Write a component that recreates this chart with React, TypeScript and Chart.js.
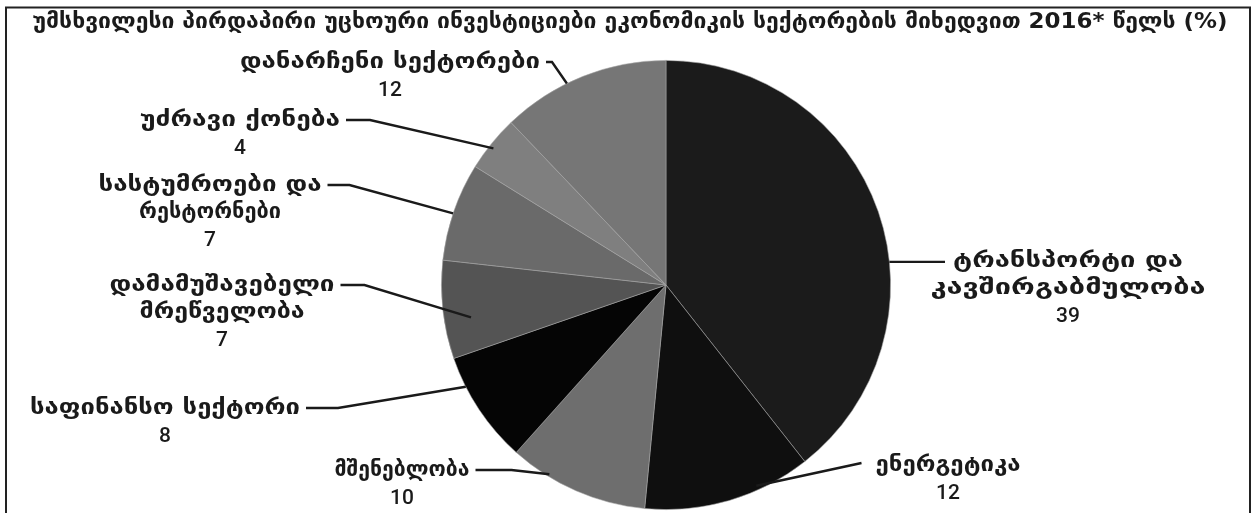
import React, { useEffect, useRef } from "react";
import { Chart, registerables } from "chart.js";

Chart.register(...registerables);

const titleText = "უმსხვილესი პირდაპირი უცხოური ინვესტიციები ეკონომიკის სექტორების მიხედვით 2016* წელს (%)";

const categories = [
  "ტრანსპორტი და კავშირგაბმულობა",
  "ენერგეტიკა",
  "მშენებლობა",
  "საფინანსო სექტორი",
  "დამამუშავებელი მრეწველობა",
  "სასტუმროები და რესტორნები",
  "უძრავი ქონება",
  "დანარჩენი სექტორები",
];

const values = [39, 12, 10, 8, 7, 7, 4, 12];

const labelLines = [
  ["ტრანსპორტი და", "კავშირგაბმულობა"],
  ["ენერგეტიკა"],
  ["მშენებლობა"],
  ["საფინანსო სექტორი"],
  ["დამამუშავებელი", "მრეწველობა"],
  ["სასტუმროები და", "რესტორნები"],
  ["უძრავი ქონება"],
  ["დანარჩენი სექტორები"],
];

const sliceColors = ["#1b1b1b", "#0f0f0f", "#6e6e6e", "#050505", "#545454", "#6a6a6a", "#7f7f7f", "#767676"];

// layout of annotation labels (positions / sizes only)
const labelLayout = [
  { cx: 1068, y: 262, side: "right", frac: 0.593, rr: 1.0, widths: [230, 275] },
  { cx: 948, y: 466, side: "right", frac: 0.32, rr: 0.98, widths: [145], diag: true },
  { cx: 402, y: 471, side: "left", frac: 0.72, rr: 0.99, widths: [135], seg: 36 },
  { cx: 165, y: 409, side: "left", frac: 0.73, rr: 1.0, widths: [270], seg: 32 },
  { cx: 222, y: 286, side: "left", frac: 0.38, rr: 0.88, widths: [225, 165], seg: 24 },
  { cx: 210, y: 186, side: "left", frac: 0.48, rr: 1.0, widths: [223, 142], seg: 22 },
  { cx: 240, y: 121, side: "left", frac: 0.45, rr: 0.98, widths: [200], seg: 24 },
  { cx: 390, y: 63, side: "left", frac: 0.4, rr: 1.0, widths: [300], seg: 6 },
];

const TEXT_COLOR = "#1a1a1a";
const LINE_GAP = 27;

function fitText(ctx: CanvasRenderingContext2D, text: string, cx: number, y: number, target: number) {
  const w = ctx.measureText(text).width;
  const s = target / w;
  ctx.save();
  ctx.translate(cx, y);
  ctx.scale(s, 1);
  ctx.textAlign = "center";
  ctx.textBaseline = "middle";
  ctx.fillText(text, 0, 0);
  ctx.restore();
}

const annotationPlugin = {
  id: "annotations",
  afterDraw(chart: any) {
    const ctx: CanvasRenderingContext2D = chart.ctx;
    ctx.save();
    // frame
    ctx.strokeStyle = "#222";
    ctx.lineWidth = 2;
    ctx.strokeRect(6, 7.5, 1244, 520);

    // title
    ctx.fillStyle = TEXT_COLOR;
    ctx.font = "bold 21px 'DejaVu Sans'";
    fitText(ctx, titleText, 630, 23, 1195);

    const meta = chart.getDatasetMeta(0);
    labelLines.forEach((lines, i) => {
      const lay = labelLayout[i];
      const arc = meta.data[i];
      const a = arc.startAngle + lay.frac * (arc.endAngle - arc.startAngle);
      const ax = arc.x + Math.cos(a) * arc.outerRadius * lay.rr;
      const ay = arc.y + Math.sin(a) * arc.outerRadius * lay.rr;

      ctx.fillStyle = TEXT_COLOR;
      ctx.font = "bold 21px 'DejaVu Sans'";
      lines.forEach((ln, k) => fitText(ctx, ln, lay.cx, lay.y + k * LINE_GAP, lay.widths[k]));
      ctx.font = "500 21px Roboto";
      ctx.textAlign = "center";
      ctx.textBaseline = "middle";
      ctx.fillText(String(values[i]), lay.cx, lay.y + lines.length * LINE_GAP + 1);

      ctx.strokeStyle = "#1a1a1a";
      ctx.lineWidth = 2.4;
      ctx.beginPath();
      if (lay.side === "left") {
        const sx = lay.cx + lay.widths[0] / 2 + 6;
        const ex = sx + (lay.seg || 24);
        const ly = lay.y - 1;
        ctx.moveTo(sx, ly);
        ctx.lineTo(ex, ly);
        ctx.lineTo(ax, ay);
      } else {
        const tx = lay.cx - lay.widths[0] / 2 - (lay.diag ? 14 : 8);
        ctx.moveTo(ax, ay);
        ctx.lineTo(tx, lay.diag ? lay.y - 3 : ay);
      }
      ctx.stroke();
    });
    ctx.restore();
  },
};

export default function App() {
  const ref = useRef<HTMLCanvasElement | null>(null);
  useEffect(() => {
    if (!ref.current) return;
    const chart = new Chart(ref.current, {
      type: "pie",
      data: {
        labels: categories,
        datasets: [
          {
            data: values,
            backgroundColor: sliceColors,
            borderColor: "rgba(165,165,165,0.7)",
            borderWidth: 0.8,
          },
        ],
      },
      options: {
        responsive: false,
        animation: false,
        devicePixelRatio: 1,
        layout: { padding: { left: 441, right: 362, top: 58, bottom: 1 } },
        plugins: {
          legend: { display: false },
          tooltip: { enabled: false },
          title: { display: false },
        },
      },
      plugins: [annotationPlugin],
    });
    return () => chart.destroy();
  }, []);
  return (
    <div style={{ position: "fixed", left: 0, top: 0, width: 1253, height: 513, background: "#fff" }}>
      <canvas ref={ref} width={1253} height={513} style={{ width: 1253, height: 513, display: "block" }} />
    </div>
  );
}
